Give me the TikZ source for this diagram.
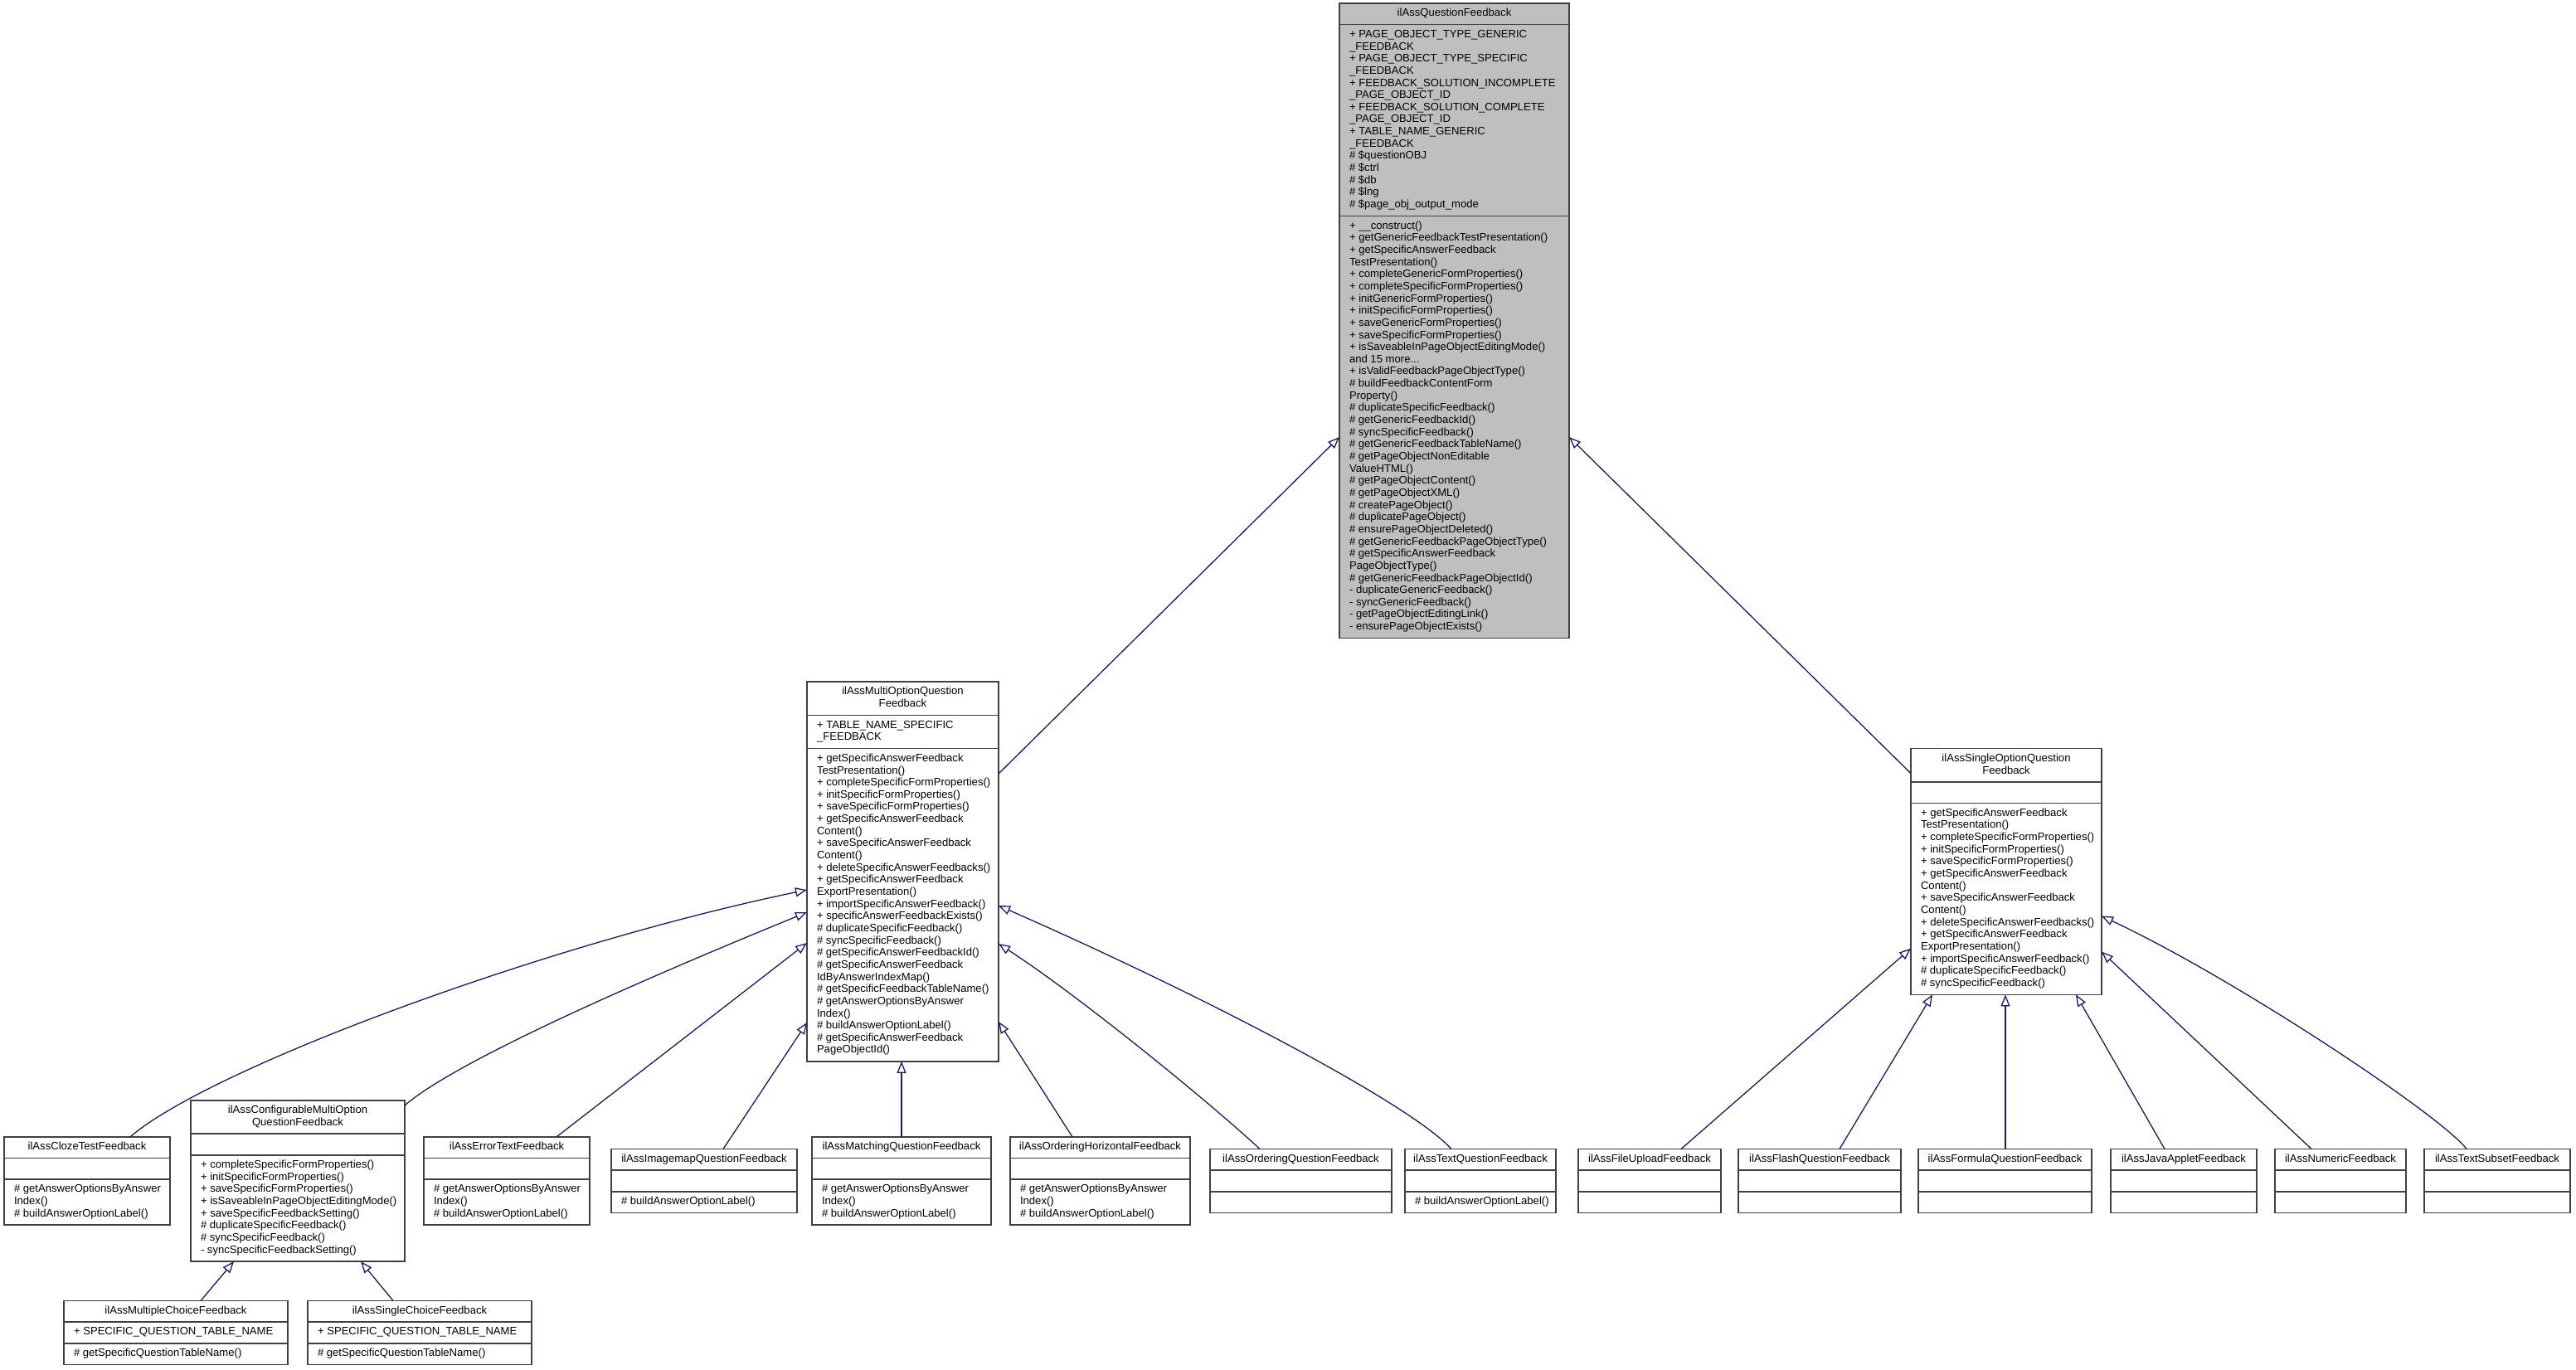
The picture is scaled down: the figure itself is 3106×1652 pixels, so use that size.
\documentclass[tikz,border=0pt]{standalone}
\usepackage{fontspec}
\setmainfont{Liberation Sans}
\usetikzlibrary{calc,arrows.meta}
\definecolor{edgeblue}{HTML}{191970}
\definecolor{qfgray}{HTML}{BFBFBF}
\definecolor{framecol}{HTML}{404040}

\newcommand\LH{14.65}
\newcommand\PD{11}
\newcommand\HP{5.5}
\newcommand\XP{12}

\tikzset{
 clsframe/.style={draw=framecol, line width=1.5pt, fill=white, inner sep=0pt, outer sep=0pt, rectangle},
 qfstyle/.style={fill=qfgray},
 sepline/.style={draw=framecol, line width=1.5pt},
 txt/.style={inner sep=0pt, outer sep=0pt, font=\fontsize{13.1}{14.65}\selectfont, text=black},
 inh/.style={draw=edgeblue, line width=1.3pt, -{Triangle[length=14pt,width=11pt,fill=white]}},
}

% #2 name, #3 x, #4 ytop, #5 width, #6 title lines, #7 attr lines, #8 method lines
\newcommand\clsbox[8][]{%
 \pgfmathsetmacro\hT{#6*\LH+\PD}%
 \pgfmathsetmacro\hA{max(#7,1)*\LH+\PD}%
 \pgfmathsetmacro\hM{max(#8,1)*\LH+\PD}%
 \pgfmathsetmacro\hTot{\hT+\hA+\hM}%
 \node[clsframe,#1,minimum width=#5pt,minimum height=\hTot pt,anchor=north west] (#2) at (#3,-#4) {};%
 \coordinate (#2-a) at ($(#2.north west)+(0,-\hT)$);%
 \coordinate (#2-m) at ($(#2-a)+(0,-\hA)$);%
 \draw[sepline] (#2-a) -- (#2-a -| #2.east);%
 \draw[sepline] (#2-m) -- (#2-m -| #2.east);%
}
\newcommand\ttl[2]{\node[txt,anchor=north] (#1-tt) at ($(#1.north)+(0,-\HP)$) {\begin{tabular}{@{}c@{}}#2\end{tabular}};}
\newcommand\att[2]{\node[txt,anchor=north west] (#1-at) at ($(#1-a)+(\XP,-\HP)$) {\begin{tabular}{@{}l@{}}#2\end{tabular}};}
\newcommand\mth[2]{\node[txt,anchor=north west] (#1-mt) at ($(#1-m)+(\XP,-\HP)$) {\begin{tabular}{@{}l@{}}#2\end{tabular}};}

\begin{document}
\begin{tikzpicture}[x=1pt,y=1pt]
\useasboundingbox[fill=white] (0,0) rectangle (3106,-1652);

% ---------- boxes ----------
\clsbox[qfstyle]{qf}{1615}{4}{277}{1}{15}{34}
\ttl{qf}{ilAssQuestionFeedback}
\att{qf}{+ PAGE\_OBJECT\_TYPE\_GENERIC\\
\_FEEDBACK\\
+ PAGE\_OBJECT\_TYPE\_SPECIFIC\\
\_FEEDBACK\\
+ FEEDBACK\_SOLUTION\_INCOMPLETE\\
\_PAGE\_OBJECT\_ID\\
+ FEEDBACK\_SOLUTION\_COMPLETE\\
\_PAGE\_OBJECT\_ID\\
+ TABLE\_NAME\_GENERIC\\
\_FEEDBACK\\
\# \$questionOBJ\\
\# \$ctrl\\
\# \$db\\
\# \$lng\\
\# \$page\_obj\_output\_mode}
\mth{qf}{+ \_\_construct()\\
+ getGenericFeedbackTestPresentation()\\
+ getSpecificAnswerFeedback\\
TestPresentation()\\
+ completeGenericFormProperties()\\
+ completeSpecificFormProperties()\\
+ initGenericFormProperties()\\
+ initSpecificFormProperties()\\
+ saveGenericFormProperties()\\
+ saveSpecificFormProperties()\\
+ isSaveableInPageObjectEditingMode()\\
and 15 more...\\
+ isValidFeedbackPageObjectType()\\
\# buildFeedbackContentForm\\
Property()\\
\# duplicateSpecificFeedback()\\
\# getGenericFeedbackId()\\
\# syncSpecificFeedback()\\
\# getGenericFeedbackTableName()\\
\# getPageObjectNonEditable\\
ValueHTML()\\
\# getPageObjectContent()\\
\# getPageObjectXML()\\
\# createPageObject()\\
\# duplicatePageObject()\\
\# ensurePageObjectDeleted()\\
\# getGenericFeedbackPageObjectType()\\
\# getSpecificAnswerFeedback\\
PageObjectType()\\
\# getGenericFeedbackPageObjectId()\\
- duplicateGenericFeedback()\\
- syncGenericFeedback()\\
- getPageObjectEditingLink()\\
- ensurePageObjectExists()}

\clsbox{mo}{973}{822}{231}{2}{2}{25}
\ttl{mo}{ilAssMultiOptionQuestion\\Feedback}
\att{mo}{+ TABLE\_NAME\_SPECIFIC\\\_FEEDBACK}
\mth{mo}{+ getSpecificAnswerFeedback\\
TestPresentation()\\
+ completeSpecificFormProperties()\\
+ initSpecificFormProperties()\\
+ saveSpecificFormProperties()\\
+ getSpecificAnswerFeedback\\
Content()\\
+ saveSpecificAnswerFeedback\\
Content()\\
+ deleteSpecificAnswerFeedbacks()\\
+ getSpecificAnswerFeedback\\
ExportPresentation()\\
+ importSpecificAnswerFeedback()\\
+ specificAnswerFeedbackExists()\\
\# duplicateSpecificFeedback()\\
\# syncSpecificFeedback()\\
\# getSpecificAnswerFeedbackId()\\
\# getSpecificAnswerFeedback\\
IdByAnswerIndexMap()\\
\# getSpecificFeedbackTableName()\\
\# getAnswerOptionsByAnswer\\
Index()\\
\# buildAnswerOptionLabel()\\
\# getSpecificAnswerFeedback\\
PageObjectId()}

\clsbox{so}{2304}{902.6}{230}{2}{0}{15}
\ttl{so}{ilAssSingleOptionQuestion\\Feedback}
\mth{so}{+ getSpecificAnswerFeedback\\
TestPresentation()\\
+ completeSpecificFormProperties()\\
+ initSpecificFormProperties()\\
+ saveSpecificFormProperties()\\
+ getSpecificAnswerFeedback\\
Content()\\
+ saveSpecificAnswerFeedback\\
Content()\\
+ deleteSpecificAnswerFeedbacks()\\
+ getSpecificAnswerFeedback\\
ExportPresentation()\\
+ importSpecificAnswerFeedback()\\
\# duplicateSpecificFeedback()\\
\# syncSpecificFeedback()}

\clsbox{cloze}{5}{1370.9}{200}{1}{0}{3}
\ttl{cloze}{ilAssClozeTestFeedback}
\mth{cloze}{\# getAnswerOptionsByAnswer\\Index()\\\# buildAnswerOptionLabel()}

\clsbox{cfg}{230}{1326.9}{258}{2}{0}{8}
\ttl{cfg}{ilAssConfigurableMultiOption\\QuestionFeedback}
\mth{cfg}{+ completeSpecificFormProperties()\\
+ initSpecificFormProperties()\\
+ saveSpecificFormProperties()\\
+ isSaveableInPageObjectEditingMode()\\
+ saveSpecificFeedbackSetting()\\
\# duplicateSpecificFeedback()\\
\# syncSpecificFeedback()\\
- syncSpecificFeedbackSetting()}

\clsbox{err}{511}{1370.9}{200}{1}{0}{3}
\ttl{err}{ilAssErrorTextFeedback}
\mth{err}{\# getAnswerOptionsByAnswer\\Index()\\\# buildAnswerOptionLabel()}

\clsbox{img}{737}{1385.5}{224}{1}{0}{1}
\ttl{img}{ilAssImagemapQuestionFeedback}
\mth{img}{\# buildAnswerOptionLabel()}

\clsbox{mat}{979}{1370.9}{216}{1}{0}{3}
\ttl{mat}{ilAssMatchingQuestionFeedback}
\mth{mat}{\# getAnswerOptionsByAnswer\\Index()\\\# buildAnswerOptionLabel()}

\clsbox{oh}{1218}{1370.9}{217}{1}{0}{3}
\ttl{oh}{ilAssOrderingHorizontalFeedback}
\mth{oh}{\# getAnswerOptionsByAnswer\\Index()\\\# buildAnswerOptionLabel()}

\clsbox{oq}{1459}{1385.5}{219}{1}{0}{0}
\ttl{oq}{ilAssOrderingQuestionFeedback}

\clsbox{tq}{1694}{1385.5}{182}{1}{0}{1}
\ttl{tq}{ilAssTextQuestionFeedback}
\mth{tq}{\# buildAnswerOptionLabel()}

\clsbox{fu}{1903}{1385.5}{172}{1}{0}{0}
\ttl{fu}{ilAssFileUploadFeedback}
\clsbox{fl}{2096}{1385.5}{196}{1}{0}{0}
\ttl{fl}{ilAssFlashQuestionFeedback}
\clsbox{fo}{2313}{1385.5}{209}{1}{0}{0}
\ttl{fo}{ilAssFormulaQuestionFeedback}
\clsbox{ja}{2545}{1385.5}{176}{1}{0}{0}
\ttl{ja}{ilAssJavaAppletFeedback}
\clsbox{nu}{2743}{1385.5}{158}{1}{0}{0}
\ttl{nu}{ilAssNumericFeedback}
\clsbox{ts}{2923}{1385.5}{176}{1}{0}{0}
\ttl{ts}{ilAssTextSubsetFeedback}

\clsbox{mc}{77}{1568.5}{270}{1}{1}{1}
\ttl{mc}{ilAssMultipleChoiceFeedback}
\att{mc}{+ SPECIFIC\_QUESTION\_TABLE\_NAME}
\mth{mc}{\# getSpecificQuestionTableName()}

\clsbox{sc}{371}{1568.5}{270}{1}{1}{1}
\ttl{sc}{ilAssSingleChoiceFeedback}
\att{sc}{+ SPECIFIC\_QUESTION\_TABLE\_NAME}
\mth{sc}{\# getSpecificQuestionTableName()}

% ---------- inheritance edges ----------
\draw[inh] ($(mo.north east)+(0,-111)$) -- ($(qf.north west)+(0,-523)$);
\draw[inh] ($(so.north west)+(0,-30)$) -- ($(qf.north east)+(0,-523)$);

\draw[inh] ($(cloze.north west)+(152,0)$) .. controls +(93,81) and +(-322,-67) .. ($(mo.north west)+(0,-251)$);
\draw[inh] ($(cfg.north east)+(0,-6)$) .. controls +(73,63) and +(-122,-50) .. ($(mo.north west)+(0,-278)$);
\draw[inh] ($(err.north west)+(160,0)$) -- ($(mo.north west)+(0,-315)$);
\draw[inh] ($(img.north west)+(135,0)$) -- ($(mo.north west)+(0,-411)$);
\draw[inh] ($(mat.north west)+(108,0)$) -- ($(mo.south west)+(114,0)$);
\draw[inh] ($(oh.north west)+(75,0)$) -- ($(mo.north east)+(0,-410)$);
\draw[inh] ($(oq.north west)+(60,0)$) .. controls +(-59,55) and +(96,-62) .. ($(mo.north east)+(0,-316)$);
\draw[inh] ($(tq.north west)+(56,0)$) .. controls +(-50,55) and +(246,-108) .. ($(mo.north east)+(0,-270)$);

\draw[inh] ($(mc.north west)+(165,0)$) -- ($(cfg.south west)+(52,0)$);
\draw[inh] ($(sc.north west)+(103,0)$) -- ($(cfg.south west)+(205,0)$);

\draw[inh] ($(fu.north west)+(124,0)$) -- ($(so.north west)+(0,-241)$);
\draw[inh] ($(fl.north west)+(122,0)$) -- ($(so.south west)+(26,0)$);
\draw[inh] ($(fo.north west)+(105,0)$) -- ($(so.south west)+(114,0)$);
\draw[inh] ($(ja.north west)+(65,0)$) -- ($(so.south west)+(199,0)$);
\draw[inh] ($(nu.north west)+(44,0)$) -- ($(so.north east)+(0,-245)$);
\draw[inh] ($(ts.north west)+(51,0)$) .. controls +(-30,40) and +(160,-75) .. ($(so.north east)+(0,-202)$);
\end{tikzpicture}
\end{document}
